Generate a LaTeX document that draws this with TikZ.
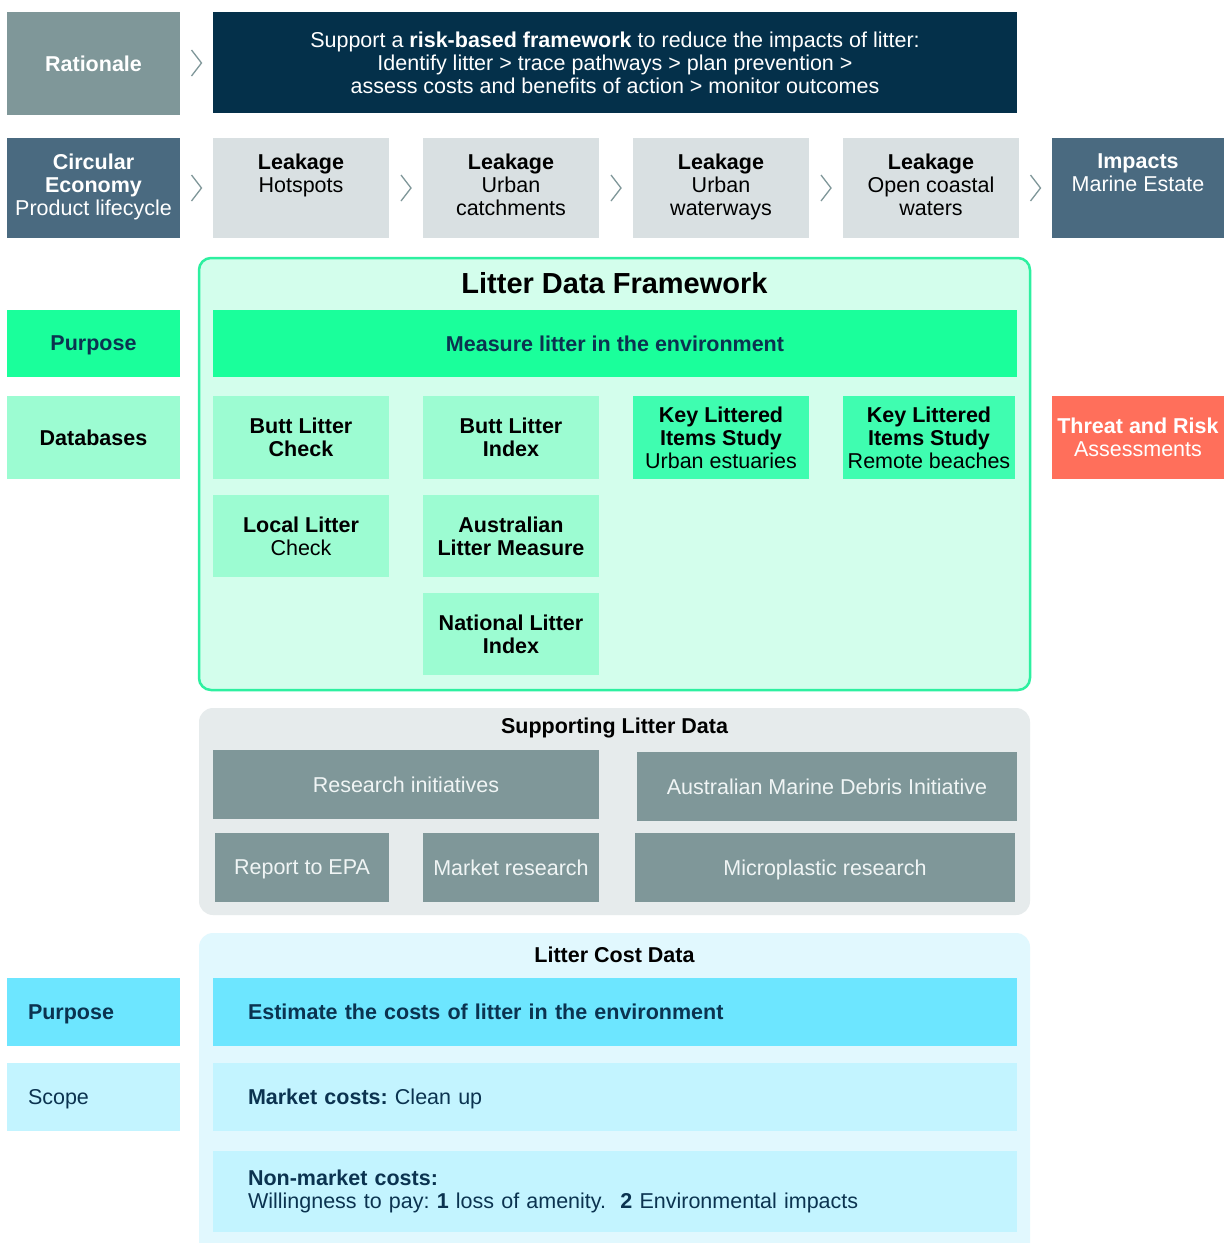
\documentclass[tikz,border=0pt]{standalone}
\usepackage{fontspec}
\setmainfont{Liberation Sans}
\usepackage{xcolor}
\usepackage{tikz}
\usetikzlibrary{calc}
\frenchspacing
\definecolor{ratgray}{RGB}{127,151,153}
\definecolor{navy}{RGB}{4,48,74}
\definecolor{slate}{RGB}{74,106,128}
\definecolor{leakgray}{RGB}{217,224,226}
\definecolor{fwfill}{RGB}{211,254,236}
\definecolor{fwline}{RGB}{45,240,160}
\definecolor{purpgreen}{RGB}{26,255,155}
\definecolor{dbgreen}{RGB}{156,252,210}
\definecolor{keygreen}{RGB}{63,253,176}
\definecolor{threatred}{RGB}{255,111,91}
\definecolor{supbg}{RGB}{230,235,236}
\definecolor{costbg}{RGB}{225,248,254}
\definecolor{costblue}{RGB}{109,230,255}
\definecolor{scopeblue}{RGB}{195,244,255}
\definecolor{txtnavy}{RGB}{11,51,80}
\definecolor{paletxt}{RGB}{240,245,245}
\tikzset{
  box/.style={rectangle, inner sep=0pt, align=center, minimum width=176, minimum height=100, font=\fontsize{21.5}{23}\selectfont},
  side/.style={box, minimum width=173},
  leak/.style={box, fill=leakgray, text=black},
  db/.style={box, fill=dbgreen, text=black, minimum height=83},
  key/.style={box, fill=keygreen, text=black, minimum height=83},
  sup/.style={box, fill=ratgray, text=paletxt, minimum height=69, text depth=0pt},
  cost/.style={box, text=txtnavy, align=left, inner xsep=35, text width=734, minimum width=804, minimum height=68}, % left aligned rows
  costside/.style={side, text=txtnavy, align=left, inner xsep=21, text width=131, minimum height=68, text depth=0pt},
  panel/.style={rectangle, rounded corners=12pt, inner sep=0pt},
  title/.style={font=\fontsize{21.5}{24}\selectfont\bfseries, text=black},
  chev/.style={draw=ratgray, line width=1.3pt, line join=miter}
}

\begin{document}
\begin{tikzpicture}[x=1pt, y=-1pt]
  \fill[white] (0,0) rectangle (1227,1243);
  \clip (0,0) rectangle (1227,1243);

  % Rationale row
  \node[side, fill=ratgray, text=white, minimum height=103] (rat) at (93.5,63.5) {\textbf{Rationale}};
  \node[box, fill=navy, text=white, minimum width=804, minimum height=101] (aim) at (615,62.5)
    {Support a \textbf{risk-based framework} to reduce the impacts of litter:\\Identify litter > trace pathways > plan prevention >\\assess costs and benefits of action > monitor outcomes};
  \draw[chev] ($(rat.east)!.5!(aim.west)+(-5,-13)$) -- ++(10,13) -- ++(-10,13);

  % Leakage pathway row
  \node[side, fill=slate, text=white] (circ) at (93.5,188) {\textbf{Circular}\\\textbf{Economy}\\Product lifecycle\strut};
  \node[leak] (hot) at (301,188) {\textbf{Leakage}\\Hotspots\\\strut};
  \node[leak] (catch) at (511,188) {\textbf{Leakage}\\Urban\\catchments\strut};
  \node[leak] (ways) at (721,188) {\textbf{Leakage}\\Urban\\waterways\strut};
  \node[leak] (coast) at (931,188) {\textbf{Leakage}\\Open coastal\\waters\strut};
  \node[side, fill=slate, text=white, minimum width=172] (imp) at (1138,188) {\textbf{Impacts}\\Marine Estate\\\strut};
  \draw[chev] ($(circ.east)!.5!(hot.west)+(-5,-13)$) -- ++(10,13) -- ++(-10,13);
  \draw[chev] ($(hot.east)!.5!(catch.west)+(-5,-13)$) -- ++(10,13) -- ++(-10,13);
  \draw[chev] ($(catch.east)!.5!(ways.west)+(-5,-13)$) -- ++(10,13) -- ++(-10,13);
  \draw[chev] ($(ways.east)!.5!(coast.west)+(-5,-13)$) -- ++(10,13) -- ++(-10,13);
  \draw[chev] ($(coast.east)!.5!(imp.west)+(-5,-13)$) -- ++(10,13) -- ++(-10,13);

  % Litter data framework
  \node[panel, draw=fwline, line width=2.5pt, fill=fwfill, minimum width=831, minimum height=432] (fw) at (614.5,474) {};
  \node[title, font=\fontsize{29}{32}\selectfont\bfseries] (fwt) at (614.5,283) {Litter Data Framework};
  \node[side, fill=purpgreen, text=txtnavy, minimum height=67, text depth=0pt] (purp) at (93.5,343.5) {\textbf{Purpose}};
  \node[box, fill=purpgreen, text=txtnavy, minimum width=804, minimum height=67] (meas) at (615,343.5) {\textbf{Measure litter in the environment}};
  \node[side, fill=dbgreen, text=black, minimum height=83] (dbs) at (93.5,437.5) {\textbf{Databases}};
  \node[db] (blc) at (301,437.5) {\textbf{Butt Litter}\\\textbf{Check}};
  \node[db] (bli) at (511,437.5) {\textbf{Butt Litter}\\\textbf{Index}};
  \node[key] (klu) at (721,437.5) {\textbf{Key Littered}\\\textbf{Items Study}\\Urban estuaries};
  \node[key, minimum width=172] (klr) at (929,437.5) {\textbf{Key Littered}\\\textbf{Items Study}\\Remote beaches};
  \node[side, fill=threatred, text=white, minimum width=172, minimum height=83] (thr) at (1138,437.5) {\textbf{Threat and Risk}\\Assessments};
  \node[db, minimum height=82] (llc) at (301,536) {\textbf{Local Litter}\\Check};
  \node[db, minimum height=82] (alm) at (511,536) {\textbf{Australian}\\\textbf{Litter Measure}};
  \node[db, minimum height=82] (nli) at (511,634) {\textbf{National Litter}\\\textbf{Index}};

  % Supporting litter data
  \node[panel, fill=supbg, rounded corners=14pt, minimum width=831, minimum height=207] (sp) at (614.5,811.5) {};
  \node[title] (spt) at (614.5,728) {Supporting Litter Data};
  \node[sup, minimum width=386] (res) at (406,784.5) {Research initiatives};
  \node[sup, minimum width=380] (amdi) at (827,786.5) {Australian Marine Debris Initiative};
  \node[sup, minimum width=174] (epa) at (302,867.5) {Report to EPA};
  \node[sup] (mkt) at (511,867.5) {Market research};
  \node[sup, minimum width=380] (micro) at (825,867.5) {Microplastic research};

  % Litter cost data
  \node[panel, fill=costbg, rounded corners=14pt, minimum width=831, minimum height=330] (cp) at (614.5,1098) {};
  \node[title] (cpt) at (614.5,955) {Litter Cost Data};
  \node[costside, fill=costblue] (cpurp) at (93.5,1012) {\textbf{Purpose}};
  \node[cost, fill=costblue] (est) at (615,1012) {\textbf{Estimate the costs of litter in the environment}};
  \node[costside, fill=scopeblue] (scope) at (93.5,1097) {Scope};
  \node[cost, fill=scopeblue, text depth=0pt] (mcost) at (615,1097) {\textbf{Market costs:} Clean up};
  \node[cost, fill=scopeblue, minimum height=81] (nmcost) at (615,1191.5)
    {\textbf{Non-market costs:}\\Willingness to pay: \textbf{1} loss of amenity.\ \ \textbf{2} Environmental impacts};

\end{tikzpicture}
\end{document}
